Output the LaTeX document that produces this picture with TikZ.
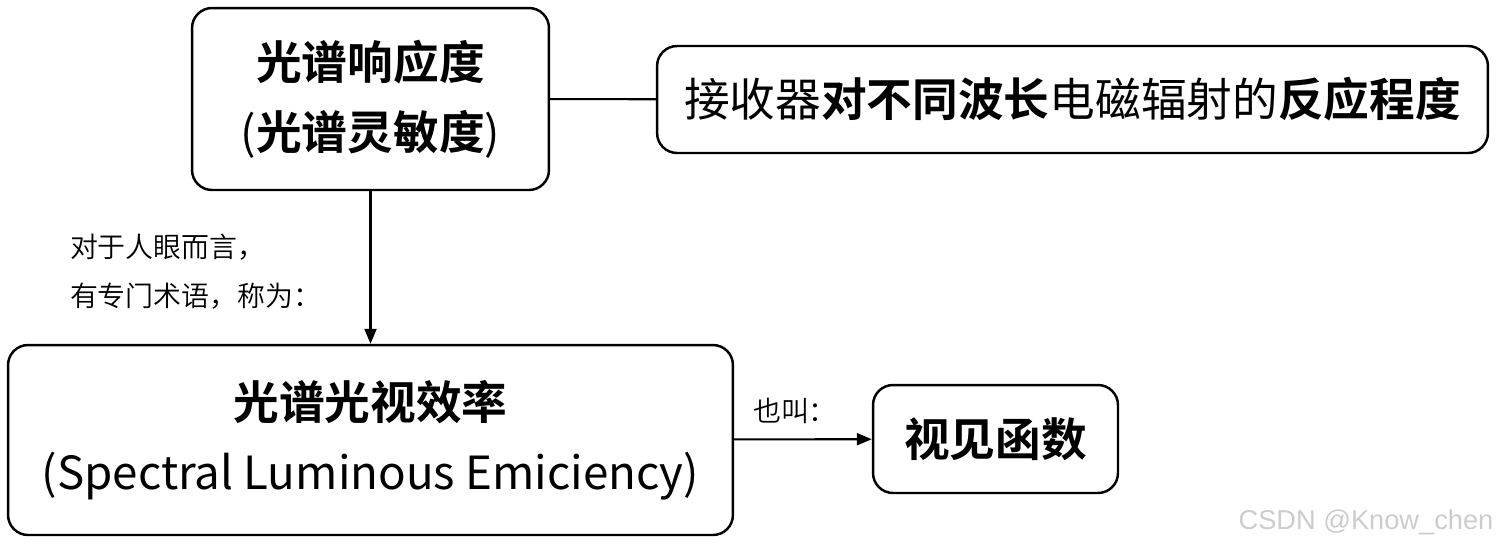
\documentclass[tikz,border=0pt]{standalone}
\usepackage{fontspec}
\setmainfont{Noto Sans CJK SC}[BoldFont={Noto Sans CJK SC Bold}]
\newfontfamily\notefont{Noto Sans CJK SC DemiLight}
\newfontfamily\wmfont{Liberation Sans}
\usepackage{tikz}
\usetikzlibrary{arrows.meta}

\begin{document}
\begin{tikzpicture}[x=0.02cm,y=-0.02cm,
    box/.style={draw,rounded corners=0.4cm,line width=1.4pt,align=center,inner sep=0pt,
       font=\fontsize{26pt}{39.8pt}\selectfont},
    note/.style={align=left,inner sep=0pt,font=\notefont\fontsize{15.9pt}{27.9pt}\selectfont},
    conn/.style={line width=1.2pt},
    arr/.style={line width=1.2pt,-{Triangle[length=0.3cm,width=0.24cm]}}]
   \useasboundingbox (0,0) rectangle (1500,549);
   \draw (370.5,99) node[box,minimum width=7.14cm,minimum height=3.64cm] (resp) {\textbf{光谱响应度}\\(\textbf{光谱灵敏度})};
    \draw (1072.5,99.5) node[box,minimum width=16.62cm,minimum height=2.14cm] (def) {接收器\textbf{对不同波长}电磁辐射的\textbf{反应程度}};
     \draw (370.5,440) node[box,minimum width=14.5cm,minimum height=3.8cm] (eff) {\textbf{光谱光视效率}\\(Spectral Luminous Emiciency)};
  \draw (995.5,439) node[box,minimum width=4.9cm,minimum height=2.16cm] (func) {\textbf{视见函数}};
    \draw (1366,522) node[inner sep=0pt,text=black!20,font=\wmfont\fontsize{15.5pt}{18pt}\selectfont] (watermark) {CSDN @Know\_chen};

      \path[conn] (resp) edge (def);
      \path[arr] (resp) edge node[note,left=0.96cm,yshift=-0.08cm] {对于人眼而言，\\有专门术语，称为：} (eff);
       \path[arr] (eff) edge node[note,above=0.3cm,xshift=-0.16cm] {也叫：} (func);
\end{tikzpicture}
\end{document}
